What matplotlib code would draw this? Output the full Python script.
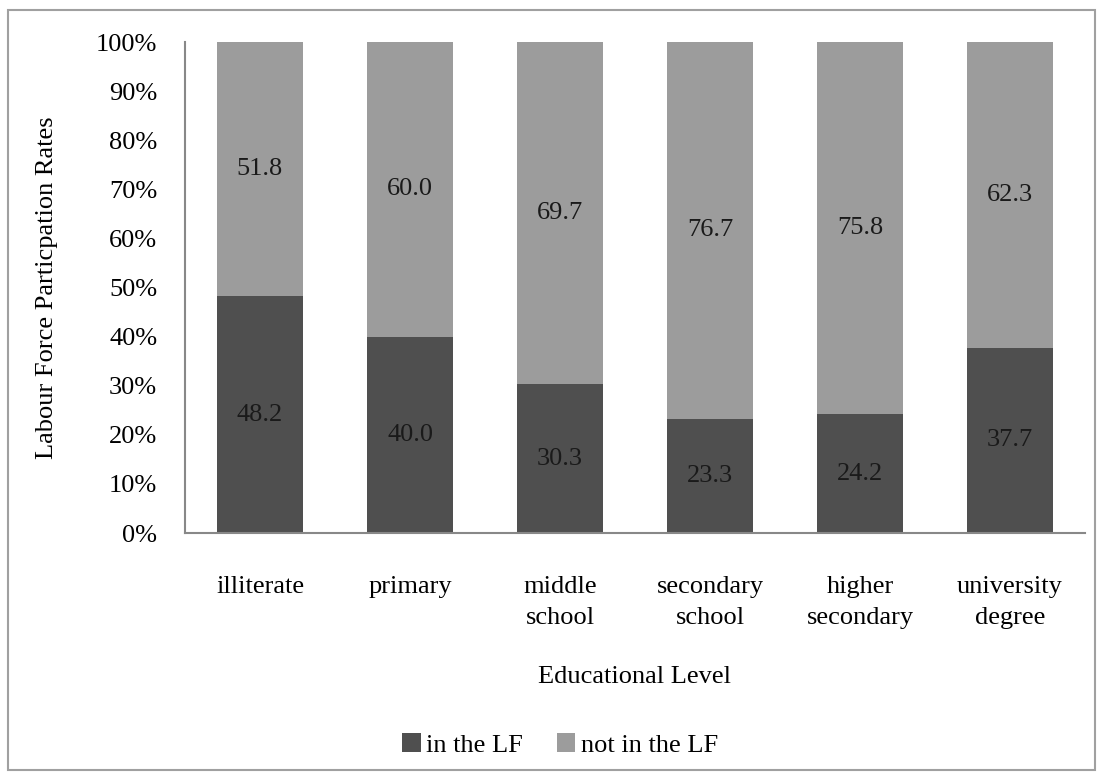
import numpy as np
import matplotlib.pyplot as plt
from matplotlib.patches import Rectangle

levels = ["illiterate", "primary", "middle\nschool", "secondary\nschool",
          "higher\nsecondary", "university\ndegree"]
in_lf = [48.2, 40.0, 30.3, 23.3, 24.2, 37.7]
not_in_lf = [51.8, 60.0, 69.7, 76.7, 75.8, 62.3]

plt.rcParams['font.family'] = ['Liberation Serif', 'DejaVu Serif']
fs = 19

fig = plt.figure(figsize=(11.02, 7.78), dpi=100)
ax = fig.add_axes([185 / 1102, 1 - 533 / 778, 900 / 1102, 491 / 778])

x = np.arange(len(levels))
w = 0.57
ax.bar(x, in_lf, w, color='#4f4f4f', label='in the LF', zorder=2)
ax.bar(x, not_in_lf, w, bottom=in_lf, color='#9c9c9c', label='not in the LF', zorder=2)

for i in range(len(levels)):
    ax.text(x[i], in_lf[i] / 2, f"{in_lf[i]:.1f}", ha='center', va='center',
            fontsize=fs, color='#1a1a1a')
    ax.text(x[i], in_lf[i] + not_in_lf[i] / 2, f"{not_in_lf[i]:.1f}", ha='center',
            va='center', fontsize=fs, color='#1a1a1a')

ax.set_xlim(-0.5, len(levels) - 0.5)
ax.set_ylim(0, 100)
ax.set_yticks(np.arange(0, 101, 10))
ax.set_yticklabels([f"{v}%" for v in range(0, 101, 10)], fontsize=fs)
ax.set_xticks(x)
ax.set_xticklabels(levels, fontsize=fs, linespacing=1.5, va='top')
ax.tick_params(axis='both', length=0)
ax.tick_params(axis='x', pad=31)
ax.tick_params(axis='y', pad=20)
for s in ['top', 'right']:
    ax.spines[s].set_visible(False)
for s in ['left', 'bottom']:
    ax.spines[s].set_color('#888888')
    ax.spines[s].set_linewidth(1.5)

ax.set_xlabel("Educational Level", fontsize=fs, labelpad=27)
ax.set_ylabel("Labour Force Particpation Rates", fontsize=fs, labelpad=27)

fig.legend(loc='center', bbox_to_anchor=(560 / 1102, 1 - 745 / 778), ncol=2,
           frameon=False, fontsize=fs, handlelength=0.7, handleheight=0.7,
           handletextpad=0.2, columnspacing=1.3)

fig.patches.append(Rectangle((8 / 1102, 1 - 770 / 778), 1087 / 1102, 760 / 778,
                             transform=fig.transFigure, fill=False,
                             edgecolor='#a0a0a0', linewidth=1.5))

fig.savefig("out.png", dpi=100)
